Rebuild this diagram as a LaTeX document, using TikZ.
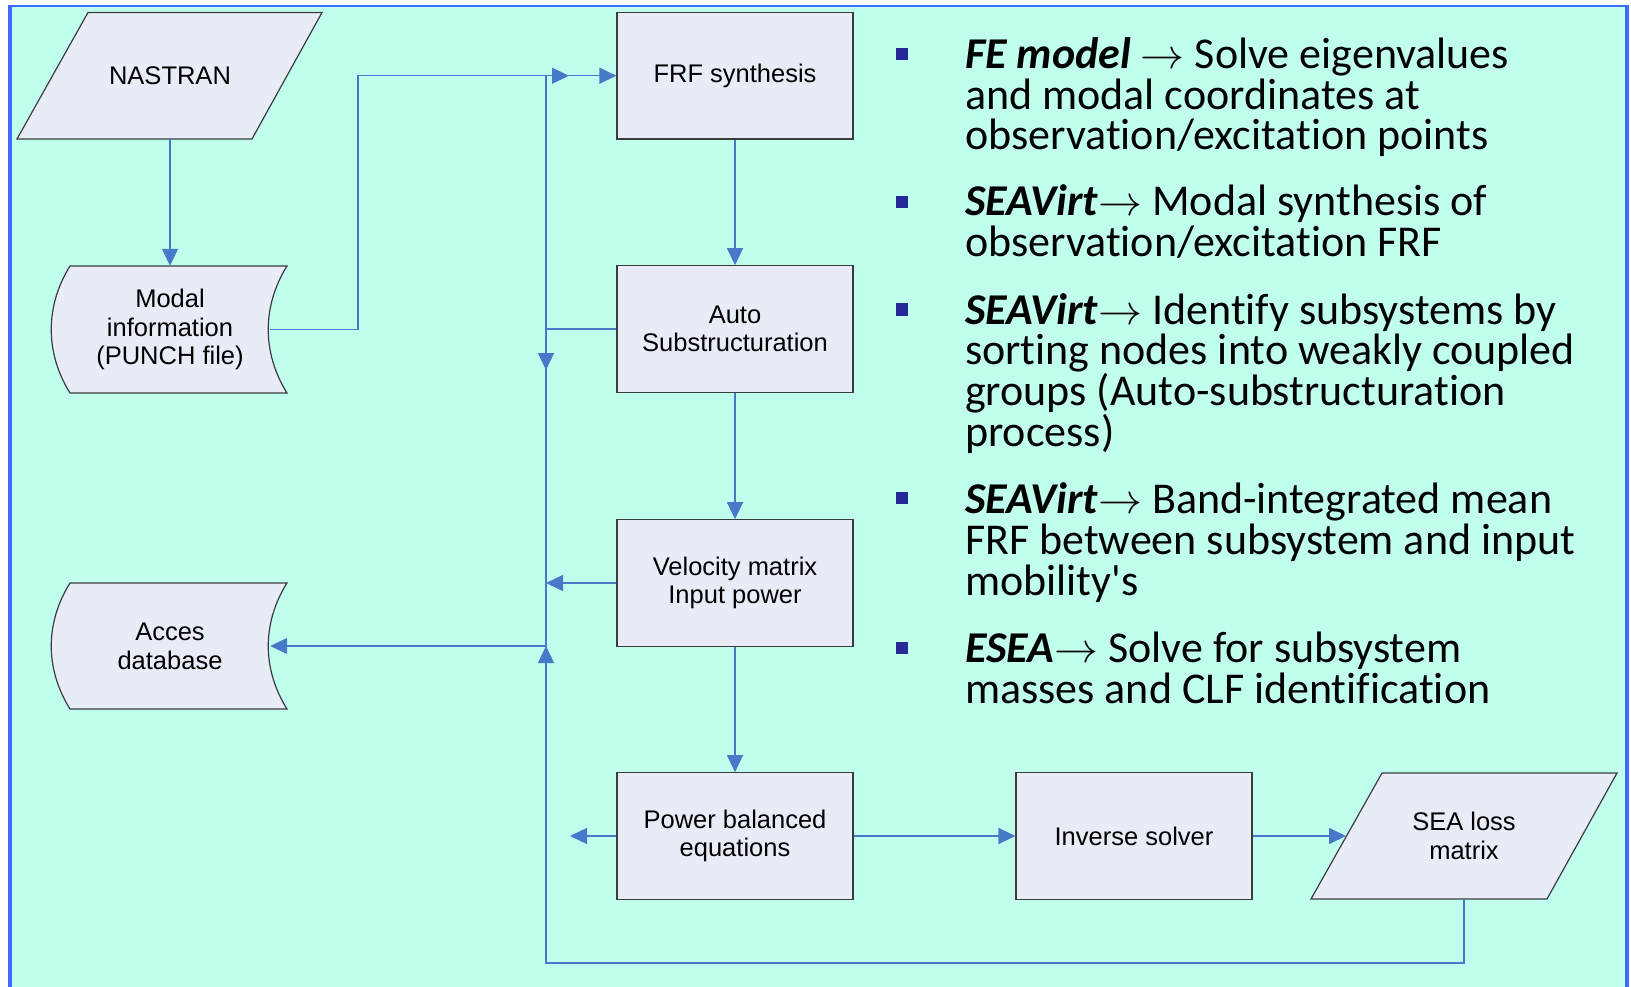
\documentclass[tikz,border=0pt]{standalone}
\usepackage{graphicx}
\usepackage{fontspec}
\newfontfamily\arialfont{Liberation Sans}
\newfontfamily\calfont[Ligatures={NoCommon,NoDiscretionary}]{Carlito}
\usetikzlibrary{arrows.meta}
\definecolor{bgc}{RGB}{192,255,238}
\definecolor{framec}{RGB}{62,106,255}
\definecolor{boxfill}{RGB}{231,236,247}
\definecolor{boxline}{RGB}{60,60,60}
\definecolor{connc}{RGB}{72,120,200}
\definecolor{bulletc}{RGB}{40,40,155}
\tikzset{
  boxshape/.style={draw=boxline, fill=boxfill, line width=1.2pt},
  procbox/.style={boxshape, minimum width=236pt, minimum height=126.5pt, inner sep=0pt,
    align=center, font={\arialfont\fontsize{25.5}{28.7}\selectfont}},
  shapetext/.style={inner sep=0pt, align=center, font={\arialfont\fontsize{25.5}{28.7}\selectfont}},
  conn/.style={draw=connc, line width=1.3pt},
  arr/.style={conn, -{Triangle[length=17pt,width=16pt]}},
  txt/.style={inner sep=0pt, anchor=base west, font={\calfont\fontsize{44}{40.6}\selectfont}},
  bul/.style={fill=bulletc, minimum size=12.5pt, inner sep=0pt},
}
\newcommand{\bi}[1]{\textbf{\textit{#1}}}
\newcommand{\rarr}{\scalebox{4.4}[4.2]{\normalsize$\rightarrow$}}
\begin{document}
\begin{tikzpicture}[x=1pt,y=-1pt]
\useasboundingbox (0,0) rectangle (1631,987);
\fill[white] (0,0) rectangle (1631,987);
\fill[bgc] (10,6) rectangle (1627,987);
\draw[framec, line width=4pt] (10,987) -- (10,6);
\draw[framec, line width=2.7pt] (8,6) -- (1629,6);
\draw[framec, line width=4pt] (1627,6) -- (1627,987);

% process boxes
\node[procbox] (frf) at (735,75.75) {FRF synthesis};
\node[procbox] (auto) at (735,329) {Auto\\Substructuration};
\node[procbox] (vel) at (735,583) {Velocity matrix\\Input power};
\node[procbox] (pow) at (735,836) {Power balanced\\equations};
\node[procbox] (inv) at (1134,836) {Inverse solver};

% parallelograms
\draw[boxshape] (88,12.5) -- (322,12.5) -- (252,139) -- (17,139) -- cycle;
\node[shapetext, minimum width=235pt, minimum height=126.5pt] (nastran) at (170,75.75) {NASTRAN};
\draw[boxshape] (1382,773) -- (1617,773) -- (1547,899) -- (1311,899) -- cycle;
\node[shapetext, minimum width=235.5pt, minimum height=126pt] (sea) at (1464,836) {SEA loss\\matrix};

% stored data shapes
\draw[boxshape] (70,266) -- (287,266) .. controls (262,306) and (262,353) .. (287,393)
  -- (70,393) .. controls (45,353) and (45,306) .. (70,266) -- cycle;
\node[shapetext, minimum width=200pt, minimum height=127pt] (modal) at (170,329.5) {Modal\\information\\(PUNCH file)};
\draw[boxshape] (70,583) -- (287,583) .. controls (262,623) and (262,669) .. (287,709)
  -- (70,709) .. controls (45,669) and (45,623) .. (70,583) -- cycle;
\node[shapetext, minimum width=200pt, minimum height=126pt] (acc) at (170,646) {Acces\\database};

% bus coordinates
\coordinate (mtop) at (358,75.75);
\coordinate (busTop) at (546,75.75);
\coordinate (busTopTip) at (569,75.75);
\coordinate (autoJ) at (546,329);
\coordinate (autoDown) at (546,370);
\coordinate (velJ) at (546,583);
\coordinate (accJ) at (546,646);
\coordinate (powTip) at (570,836);
\coordinate (busBot) at (546,963);

% connectors
\draw[arr] (nastran.south) -- (modal.north);
\draw[arr] (modal.east) -| (mtop) -- (frf.west);
\draw[conn] (busTop) -- (busBot);
\draw[arr] (busTop) -- (busTopTip);
\draw[conn] (auto.west) -- (autoJ);
\draw[arr] (autoJ) -- (autoDown);
\draw[arr] (vel.west) -- (velJ);
\draw[arr] (accJ) -- (acc.east);
\draw[arr] (sea.south) |- (busBot) -- (accJ);
\draw[arr] (pow.west) -- (powTip);
\draw[arr] (frf.south) -- (auto.north);
\draw[arr] (auto.south) -- (vel.north);
\draw[arr] (vel.south) -- (pow.north);
\draw[arr] (pow.east) -- (inv.west);
\draw[arr] (inv.east) -- (sea.west);

% bullets
\node[bul] (b1) at (902,54) {};
\node[bul] (b2) at (902,202) {};
\node[bul] (b3) at (902,309.5) {};
\node[bul] (b4) at (902,498) {};
\node[bul] (b5) at (902,648) {};

% text
\node[txt] (l11) at (965,69) {\bi{FE model} \rarr{} Solve eigenvalues};
\node[txt] (l12) at (965,109.6) {and modal coordinates at};
\node[txt] (l13) at (965,150) {observation/excitation points};
\node[txt] (l21) at (965,216) {\bi{SEAVirt}\rarr{} Modal synthesis of};
\node[txt] (l22) at (965,256.6) {observation/excitation FRF};
\node[txt] (l31) at (965,324) {\bi{SEAVirt}\rarr{} Identify subsystems by};
\node[txt] (l32) at (965,364.6) {sorting nodes into weakly coupled};
\node[txt] (l33) at (965,405) {groups (Auto-substructuration};
\node[txt] (l34) at (965,446) {process)};
\node[txt] (l41) at (965,513) {\bi{SEAVirt}\rarr{} Band-integrated mean};
\node[txt] (l42) at (965,554) {FRF between subsystem and input};
\node[txt] (l43) at (965,595) {mobility\textquotesingle s};
\node[txt] (l51) at (965,662) {\bi{ESEA}\rarr{} Solve for subsystem};
\node[txt] (l52) at (965,703) {masses and CLF identification};
\end{tikzpicture}
\end{document}
